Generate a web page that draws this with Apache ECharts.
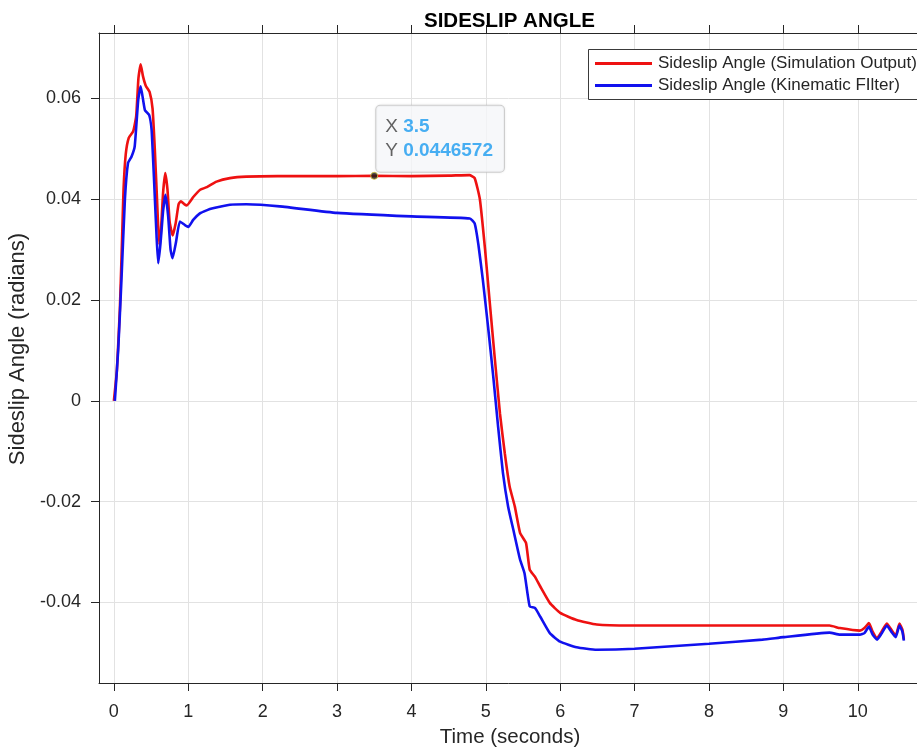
<!DOCTYPE html>
<html>
<head>
<meta charset="utf-8">
<script src="https://cdn.jsdelivr.net/npm/echarts@6/dist/echarts.min.js"></script>
<style>html,body{margin:0;padding:0;background:#fff}#c{width:917px;height:749px}</style>
</head>
<body>
<div id="c"></div>
<script>
const titleText = 'SIDESLIP ANGLE';
const xLabel = 'Time (seconds)';
const yLabel = 'Sideslip Angle (radians)';
const seriesNames = ['Sideslip Angle (Simulation Output)', 'Sideslip Angle (Kinematic FIlter)'];
const xTicks = [0,1,2,3,4,5,6,7,8,9,10];
const yTicks = [-0.04,-0.02,0,0.02,0.04,0.06];

const simTime = [0.00,0.04,0.08,0.11,0.13,0.16,0.20,0.26,0.30,0.33,0.36,0.39,0.43,0.48,0.52,0.55,0.58,0.61,0.63,0.66,0.69,0.72,0.75,0.79,0.83,0.87,0.90,0.95,0.98,1.07,1.16,1.25,1.38,1.56,1.78,2.2,3.0,3.5,4.0,4.5,4.78,4.85,4.92,4.99,5.05,5.12,5.19,5.255,5.32,5.39,5.46,5.54,5.59,5.66,5.73,5.86,6.0,6.22,6.49,6.94,8.0,9.0,9.62,9.76,10.03,10.09,10.15,10.20,10.26,10.32,10.39,10.45,10.51,10.56,10.60,10.62];
const simBeta = [0,0.006,0.018,0.032,0.042,0.049,0.0522,0.0535,0.0565,0.064,0.0668,0.0645,0.0625,0.0613,0.058,0.050,0.040,0.031,0.033,0.041,0.0452,0.042,0.0355,0.0328,0.0352,0.0390,0.0396,0.0390,0.0388,0.0405,0.0419,0.0424,0.0435,0.0442,0.0445,0.0446,0.0446,0.0446572,0.0446,0.0447,0.0448,0.0442,0.040,0.030,0.020,0.0085,-0.0025,-0.0104,-0.017,-0.021,-0.0262,-0.0282,-0.0335,-0.0349,-0.0368,-0.0401,-0.0421,-0.0435,-0.0444,-0.0446,-0.0446,-0.0446,-0.0446,-0.0451,-0.0456,-0.0451,-0.0441,-0.0458,-0.0471,-0.0458,-0.0442,-0.0454,-0.0466,-0.0442,-0.0454,-0.0474];

const kinTime = [0.013,0.058,0.10,0.148,0.19,0.238,0.28,0.327,0.36,0.417,0.475,0.507,0.542,0.574,0.596,0.627,0.663,0.694,0.73,0.762,0.789,0.833,0.887,0.954,1.0,1.066,1.156,1.246,1.33,1.56,1.78,2.23,3.0,4.0,4.785,4.85,4.9,4.96,5.03,5.10,5.165,5.23,5.30,5.37,5.46,5.52,5.59,5.66,5.73,5.86,6.0,6.22,6.49,7.0,8.0,8.72,9.0,9.62,9.76,10.03,10.09,10.15,10.20,10.26,10.32,10.39,10.45,10.51,10.56,10.60,10.62];
const kinBeta = [0,0.0101,0.0234,0.0399,0.0472,0.0485,0.0505,0.0597,0.0624,0.0577,0.0567,0.0538,0.0432,0.0326,0.0273,0.0313,0.0379,0.0409,0.0366,0.030,0.0283,0.0313,0.0356,0.0349,0.0345,0.0359,0.0372,0.0378,0.0382,0.0389,0.039,0.0386,0.0373,0.0366,0.0362,0.0352,0.031,0.024,0.0147,0.0048,-0.0051,-0.0143,-0.021,-0.0256,-0.0315,-0.0342,-0.0408,-0.0411,-0.0428,-0.0461,-0.0478,-0.0489,-0.0494,-0.0492,-0.0482,-0.0474,-0.0469,-0.046,-0.0464,-0.0464,-0.0461,-0.0448,-0.0464,-0.0474,-0.0462,-0.0446,-0.0458,-0.0469,-0.0446,-0.0458,-0.0476];

const tipX = 3.5;
const tipY = 0.0446572;

const FONT = '"Liberation Sans", Arial, Helvetica, sans-serif';
const AXC = '#262626';
const GRIDC = '#e2e2e2';

const chart = echarts.init(document.getElementById('c'), null, {renderer: 'canvas'});

const xCommon = {
  type: 'value', min: -0.2, max: 10.85,
  axisLine: {show: true, onZero: false, lineStyle: {color: AXC, width: 1}},
  axisTick: {show: true, inside: false, length: 8, customValues: xTicks, lineStyle: {color: AXC}},
  splitLine: {show: false}
};
const yCommon = {
  type: 'value', min: -0.056, max: 0.073,
  axisLine: {show: true, onZero: false, lineStyle: {color: AXC, width: 1}},
  axisTick: {show: true, inside: false, length: 8, customValues: yTicks, lineStyle: {color: AXC}},
  splitLine: {show: false}
};

chart.setOption({
  animation: false,
  backgroundColor: '#ffffff',
  textStyle: {fontFamily: FONT},
  title: {
    text: titleText, left: 419, top: 6,
    textStyle: {fontFamily: FONT, fontSize: 20.5, fontWeight: 'bold', color: '#000'}
  },
  grid: {left: 99, top: 33, width: 822, height: 650, containLabel: false, outerBoundsMode: 'none'},
  graphic: [{
    type: 'rect', left: 588, top: 49, z: 5, silent: true,
    shape: {width: 360, height: 50},
    style: {fill: '#ffffff', stroke: '#3a3a3a', lineWidth: 1}
  }],
  legend: {
    data: seriesNames, orient: 'vertical', left: 588, top: 49, z: 6,
    icon: 'rect', itemWidth: 57, itemHeight: 3, itemGap: 5,
    padding: [6, 10, 6, 7],
    backgroundColor: 'transparent', borderWidth: 0,
    textStyle: {fontFamily: FONT, fontSize: 17, color: AXC, padding: [0,0,0,1]}
  },
  xAxis: [
    Object.assign({}, xCommon, {
      position: 'bottom',
      name: xLabel, nameLocation: 'middle', nameGap: 44,
      nameTextStyle: {fontFamily: FONT, fontSize: 20.5, color: AXC},
      axisLabel: {show: true, customValues: xTicks, margin: 20, fontSize: 18, color: AXC, fontFamily: FONT},
      splitLine: {show: true, lineStyle: {color: GRIDC, width: 1}}
    }),
    Object.assign({}, xCommon, {position: 'top', axisLabel: {show: false}})
  ],
  yAxis: [
    Object.assign({}, yCommon, {
      position: 'left',
      name: yLabel, nameLocation: 'middle', nameGap: 68,
      nameTextStyle: {fontFamily: FONT, fontSize: 22, color: AXC, padding: [0, 0, 0, 18]},
      axisLabel: {show: true, customValues: yTicks, margin: 18, fontSize: 18, color: AXC, fontFamily: FONT,
        formatter: v => String(+v.toFixed(4))},
      splitLine: {show: true, lineStyle: {color: GRIDC, width: 1}}
    })
  ],
  series: [
    {
      name: seriesNames[0], type: 'line', xAxisIndex: 0, yAxisIndex: 0,
      data: simTime.map((t, i) => [t, simBeta[i]]),
      showSymbol: false, symbol: 'none', z: 3, smooth: 0.15,
      lineStyle: {color: '#ee1111', width: 2.6}, itemStyle: {color: '#ee1111'}
    },
    {
      name: seriesNames[1], type: 'line', xAxisIndex: 0, yAxisIndex: 0,
      data: kinTime.map((t, i) => [t, kinBeta[i]]),
      showSymbol: false, symbol: 'none', z: 4, smooth: 0.15,
      lineStyle: {color: '#1111ee', width: 2.6}, itemStyle: {color: '#1111ee'}
    },
    {
      name: 'datatip', type: 'scatter', xAxisIndex: 0, yAxisIndex: 0, z: 10,
      data: [[tipX, tipY]], symbolSize: 7,
      itemStyle: {color: '#1a1a1a', borderColor: '#d8c840', borderWidth: 1},
      label: {
        show: true, position: [6, -66], align: 'left', verticalAlign: 'top',
        formatter: () => '{k|X }{v|' + tipX + '}\n{k|Y }{v|' + tipY + '}',
        backgroundColor: '#f9fafd', borderColor: '#c8c8c8', borderWidth: 1, borderRadius: 4,
        padding: [9, 11, 9, 9],
        shadowColor: 'rgba(0,0,0,0.08)', shadowBlur: 3,
        rich: {
          k: {fontFamily: FONT, fontSize: 19, color: '#3c3c3c', lineHeight: 24},
          v: {fontFamily: FONT, fontSize: 19, color: '#1a9bf0', fontWeight: 'bold', lineHeight: 24}
        }
      }
    }
  ]
});
</script>
</body>
</html>
